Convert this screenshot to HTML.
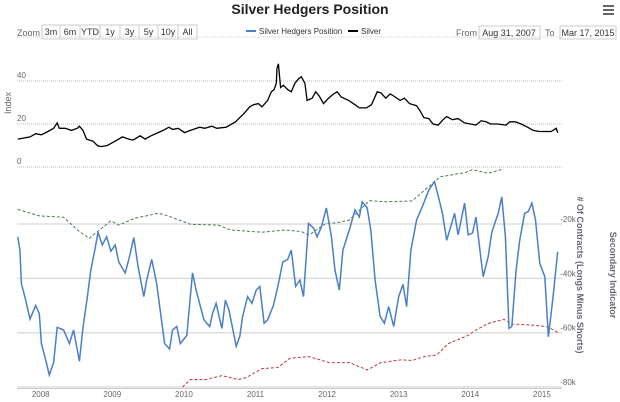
<!DOCTYPE html>
<html><head><meta charset="utf-8">
<style>
body{margin:0;background:#fff;width:620px;height:402px;overflow:hidden;font-family:"Liberation Sans",sans-serif;}
svg{display:block}
.btn{fill:#fff;stroke:#ccc;stroke-width:1}
.bt{font-size:9px;fill:#333;text-anchor:middle}
</style></head><body>
<svg id="chart" width="620" height="402">
<text x="310" y="14" text-anchor="middle" font-size="14" font-weight="bold" fill="#222">Silver Hedgers Position</text>
<g><rect x="603" y="5" width="11" height="2" fill="#666"/><rect x="603" y="9" width="11" height="2" fill="#666"/><rect x="603" y="13" width="11" height="2" fill="#666"/></g>
<text x="17" y="36" font-size="9" fill="#666">Zoom</text>
<g id="zoombtns"></g>
<g>
<line x1="246" y1="31" x2="256" y2="31" stroke="#4a7fc6" stroke-width="2"/>
<text x="259" y="34" font-size="8" fill="#333">Silver Hedgers Position</text>
<line x1="348" y1="31" x2="358" y2="31" stroke="#000" stroke-width="2"/>
<text x="361" y="34" font-size="8" fill="#333">Silver</text>
</g>
<text x="456" y="36" font-size="9" fill="#666">From</text>
<rect x="479" y="26" width="61" height="13" class="btn"/>
<text x="509" y="36" class="bt">Aug 31, 2007</text>
<text x="545" y="36" font-size="9" fill="#666">To</text>
<rect x="560" y="26" width="56" height="13" class="btn"/>
<text x="588" y="36" class="bt">Mar 17, 2015</text>
<g id="grid"></g>
<defs><clipPath id="sec"><rect x="17" y="169" width="546" height="222"/></clipPath></defs>
<g id="series"></g>
<text transform="translate(11,103) rotate(-90)" text-anchor="middle" font-size="9" fill="#667">Index</text>
<text transform="translate(577,275) rotate(90)" text-anchor="middle" font-size="9" font-weight="bold" fill="#667"># Of Contracts (Longs Minus Shorts)</text>
<text transform="translate(610,275) rotate(90)" text-anchor="middle" font-size="9" font-weight="bold" fill="#667">Secondary Indicator</text>
</svg>
<script>
// time = years since 2007.43
const silverT=[0.25,0.42,0.50,0.58,0.67,0.75,0.80,0.83,0.91,1.00,1.08,1.11,1.16,1.21,1.30,1.36,1.41,1.50,1.58,1.66,1.71,1.80,1.86,1.96,2.03,2.11,2.21,2.28,2.36,2.41,2.49,2.58,2.66,2.79,2.86,2.96,3.03,3.16,3.29,3.41,3.49,3.54,3.61,3.66,3.74,3.79,3.83,3.86,3.87,3.89,3.92,3.96,4.02,4.07,4.12,4.17,4.21,4.26,4.29,4.36,4.41,4.46,4.52,4.59,4.66,4.71,4.77,4.87,4.96,5.02,5.12,5.19,5.27,5.32,5.39,5.45,5.50,5.59,5.65,5.72,5.82,5.87,5.92,5.99,6.05,6.12,6.19,6.24,6.32,6.40,6.49,6.57,6.65,6.72,6.79,6.85,6.95,7.07,7.12,7.20,7.28,7.37,7.45,7.53,7.62,7.70,7.77,7.79];
const silverV=[13,14,15.5,15,16.5,18,20.5,18,18,17,18,19,17,13,12,10,9.5,10,11.5,13,14,13,12.5,14.5,13,14.5,16,17,18.5,17.5,18,16,17,18.5,18,19,18,18.5,21,25,28,29,29.5,28,31,35,36,39,46,48,37,38,36,35,39,41,42,39,31,32,35,33,29.5,32,34,35,32.5,31,29,27.5,27.5,29,35,34.5,32,34,33,31,32,29.5,28.5,26,23,22.5,20,19.5,22,23.5,22,22.5,20.5,20,19.5,21.5,21,20,20,19.5,21,21,20,18.5,17,16.5,16.5,16.5,18,16];
const hedgeT=[0.25,0.28,0.30,0.36,0.42,0.50,0.55,0.58,0.64,0.69,0.75,0.80,0.89,0.97,1.03,1.11,1.16,1.22,1.27,1.33,1.37,1.43,1.49,1.55,1.61,1.66,1.75,1.80,1.87,1.93,2.01,2.05,2.12,2.19,2.25,2.30,2.37,2.41,2.47,2.52,2.61,2.69,2.74,2.80,2.85,2.93,2.97,3.02,3.10,3.15,3.20,3.30,3.35,3.39,3.46,3.52,3.58,3.63,3.69,3.74,3.82,3.89,3.95,4.02,4.07,4.13,4.19,4.24,4.31,4.38,4.43,4.49,4.56,4.63,4.68,4.74,4.79,4.88,4.96,5.02,5.06,5.13,5.18,5.24,5.31,5.37,5.43,5.50,5.57,5.63,5.68,5.74,5.82,5.90,5.99,6.07,6.13,6.18,6.24,6.29,6.35,6.40,6.49,6.54,6.60,6.65,6.71,6.75,6.82,6.87,6.96,7.01,7.06,7.11,7.15,7.21,7.26,7.33,7.38,7.43,7.48,7.54,7.61,7.66,7.72,7.79];
const hedgeV=[-24.7,-29.6,-42,-48,-55,-50,-53,-64,-70,-75.6,-71,-58,-59,-64,-59,-70.5,-58,-47,-37,-29,-23,-27.7,-24.7,-30,-27.7,-34,-38,-33,-25,-35.7,-46.7,-40.6,-33,-42,-54,-64,-66,-59,-57.7,-64,-61,-38,-44.3,-50.4,-55.3,-57.7,-52.8,-49.2,-58.4,-48,-51.7,-65,-61.3,-54,-46.7,-49.2,-44.3,-43,-56.5,-55.2,-50,-42,-34,-33,-29.6,-43,-40.6,-46.7,-19.8,-21.5,-24.7,-21,-14.1,-24.7,-37,-44.3,-29.6,-22.2,-14.8,-17.4,-11.8,-14.1,-22.2,-40.6,-54,-56.5,-50.4,-57.7,-46.7,-42.2,-50.4,-29.6,-18.5,-13.6,-7.5,-4.4,-10.5,-16,-26,-21.5,-16,-24,-12.3,-24,-23.3,-17.4,-30.8,-39.4,-32,-23,-16,-10,-24.7,-58.4,-57.7,-37,-26,-16,-15.4,-12.3,-18.5,-34.5,-39.4,-61.5,-48,-30.2];
const greenT=[0.25,0.55,0.89,1.11,1.25,1.39,1.55,1.66,1.88,2.22,2.38,2.66,3.05,3.22,3.66,3.99,4.21,4.32,4.55,4.71,4.88,5.16,5.38,5.76,5.93,6.15,6.49,6.60,6.82,7.04];
const greenV=[-14.6,-17,-17.5,-22.8,-25.3,-22.2,-18.8,-20.4,-17.9,-16,-17.3,-20.1,-20.4,-22.2,-23,-22.2,-22.8,-24,-19.8,-19.5,-18.5,-11.4,-11.8,-11.5,-7.5,-2.6,-1.1,0,-1.3,0.3];
const redT=[2.55,2.66,2.88,3.10,3.33,3.44,3.66,3.88,4.05,4.32,4.60,4.88,5.13,5.32,5.60,5.76,5.93,6.10,6.26,6.54,6.65,6.82,7.04,7.15,7.43,7.65,7.79];
const redV=[-80,-77.2,-77.2,-75.8,-77.2,-76.5,-73.2,-72.8,-69.4,-68.8,-71,-71,-73.7,-71,-70,-70.2,-68.8,-68.2,-64,-61,-59,-56.6,-55.1,-56.8,-57.2,-57.8,-59.9];
const yearLabels=["2008","2009","2010","2011","2012","2013","2014","2015"];
const yearT=[0.57,1.57,2.57,3.57,4.57,5.57,6.57,7.57];
const leftTicks=[0,20,40];
const rightTicks=[-20,-40,-60,-80];
const zoomLabels=["3m","6m","YTD","1y","3y","5y","10y","All"];

const NS="http://www.w3.org/2000/svg";
const X=t=>17.8+(t-0.25)*71.6;
const YL=v=>167-2.15*v;
const YR=v=>169.7-2.717*v;
function mk(tag,attrs,parent){const e=document.createElementNS(NS,tag);for(const k in attrs)e.setAttribute(k,attrs[k]);parent.appendChild(e);return e;}
const zb=document.getElementById('zoombtns');
const zw=[18,20,20,20,19,19,20,19];let zx=42;
zoomLabels.forEach((l,i)=>{
  const r=mk('rect',{x:zx,y:25,width:zw[i],height:14,class:'btn'},zb);
  
  
  const t=mk('text',{x:zx+zw[i]/2,y:35,class:'bt'},zb);t.textContent=l;
  
  
  zx+=zw[i];
});
const g=document.getElementById('grid');
const topLine=mk('line',{x1:17,x2:562,y1:37,y2:37,stroke:'#ccc','stroke-dasharray':'1,1'},g);


leftTicks.forEach(v=>{
  const l=mk('line',{x1:17,x2:562,y1:YL(v),y2:YL(v),stroke:'#bbb','stroke-dasharray':'1,1'},g);
  
  
  const t=mk('text',{x:17,y:YL(v)-3,'font-size':8,fill:'#666'},g);t.textContent=v;
  
  
});
rightTicks.forEach(v=>{
  const l=mk('line',{x1:17,x2:562,y1:YR(v),y2:YR(v),stroke:'#ddd','stroke-width':1.5},g);
  
  
  const t=mk('text',{x:568,y:YR(v)-2,'font-size':8,fill:'#666','text-anchor':'middle'},g);t.textContent=v+'k';
  
  
});
const ax=mk('line',{x1:17,x2:562,y1:388.5,y2:388.5,stroke:'#ccc'},g);


yearT.forEach((t,i)=>{
  const tx=mk('text',{x:X(t),y:397,'font-size':8,fill:'#666','text-anchor':'middle'},g);tx.textContent=yearLabels[i];
  
  
});
const s=document.getElementById('series');
function line(T,V,ys,attrs){return mk('path',Object.assign({d:T.map((t,i)=>(i?'L':'M')+X(t).toFixed(1)+','+ys(V[i]).toFixed(1)).join(''),fill:'none'},attrs),s);}
const gr=line(greenT,greenV,YR,{stroke:'#4f7a50','stroke-width':1,'stroke-dasharray':'3,2','clip-path':'url(#sec)'});


const rd=line(redT,redV,YR,{stroke:'#c0393b','stroke-width':1,'stroke-dasharray':'3,2','clip-path':'url(#sec)'});


const hd=line(hedgeT,hedgeV,YR,{stroke:'#4a7fc6','stroke-width':1.5});


const sv=line(silverT,silverV,YL,{stroke:'#000','stroke-width':1.3});


</script>
</body></html>
